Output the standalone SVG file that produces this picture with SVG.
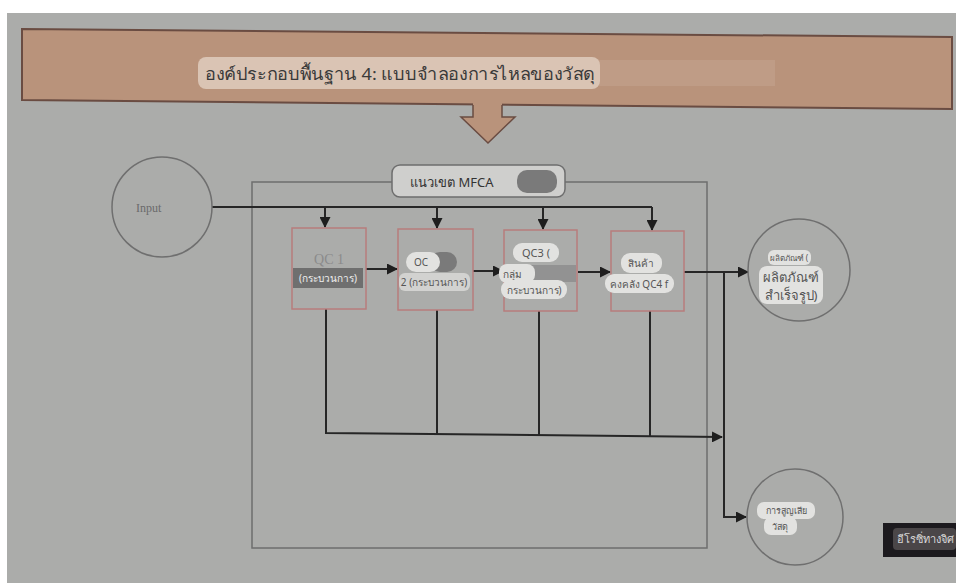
<svg xmlns="http://www.w3.org/2000/svg" width="956" height="583" viewBox="0 0 956 583">
<defs>
<marker id="ah" markerWidth="11" markerHeight="11" refX="10" refY="5.5" orient="auto" markerUnits="userSpaceOnUse">
<path d="M0,0 L11,5.5 L0,11 z" fill="#1e1e1e"/>
</marker>
<style>
.bg{fill:#abacaa}
.t{font-family:"Noto Sans","DejaVu Sans",sans-serif}
.ln{fill:none;stroke:#262626;stroke-width:2}
.box{fill:#abacaa;stroke:#b87c7c;stroke-width:1.5}
.cir{fill:#abacaa;stroke:#6f6f6f;stroke-width:1.5}
.pill{fill:#e2e2e0}
.lbl{font-size:10px;fill:#555}
</style>
</defs>
<rect width="956" height="583" fill="#ffffff"/>
<rect x="7" y="13" width="949" height="570" class="bg"/>
<g id="banner">
<polygon points="22,29 952,37 952,109 22,100" fill="#b9937b" stroke="#6a4c42" stroke-width="2"/>
<rect x="595" y="60" width="180" height="26" fill="#c09f8a" opacity="0.8"/>
<rect x="198" y="57" width="402" height="32" rx="8" fill="#dac4b4"/>
<text x="205" y="80" class="t" font-size="17" textLength="390" lengthAdjust="spacingAndGlyphs" fill="#3a3a3a">องค์ประกอบพื้นฐาน 4: แบบจำลองการไหลของวัสดุ</text>
<polygon points="473,100 502,100 502,117 515,117 488,143 461,117 473,117" fill="#b9937b"/>
<polyline points="473,105 473,117 461,117 488,143 515,117 502,117 502,105" fill="none" stroke="#6a4c42" stroke-width="1.5"/>
</g>
<g id="boundary">
<rect x="252" y="182" width="455" height="366" fill="none" stroke="#6e6e6e" stroke-width="1.5"/>
<rect x="392" y="165" width="173" height="32" rx="8" fill="#cfcfcd" stroke="#6e6e6e" stroke-width="1.5"/>
<rect x="517" y="170" width="40" height="23" rx="10" fill="#7a7a7a"/>
<text x="410" y="187" class="t" font-size="13" fill="#333">แนวเขต MFCA</text>
</g>
<g id="connectors">
<line x1="212" y1="207" x2="652" y2="207" class="ln"/>
<line x1="325" y1="207" x2="325" y2="227" class="ln" marker-end="url(#ah)"/>
<line x1="437" y1="207" x2="437" y2="228" class="ln" marker-end="url(#ah)"/>
<line x1="543" y1="207" x2="543" y2="229" class="ln" marker-end="url(#ah)"/>
<line x1="652" y1="207" x2="652" y2="230" class="ln" marker-end="url(#ah)"/>
<line x1="366" y1="269" x2="397" y2="269" class="ln" marker-end="url(#ah)"/>
<line x1="473" y1="271" x2="503" y2="271" class="ln" marker-end="url(#ah)"/>
<line x1="578" y1="272" x2="610" y2="272" class="ln" marker-end="url(#ah)"/>
<line x1="684" y1="272" x2="748" y2="272" class="ln" marker-end="url(#ah)"/>
<polyline points="326,309 326,433 722,437" class="ln" marker-end="url(#ah)"/>
<line x1="437" y1="310" x2="437" y2="434" class="ln"/>
<line x1="539" y1="311" x2="539" y2="435" class="ln"/>
<line x1="650" y1="311" x2="650" y2="436" class="ln"/>
<polyline points="724,272 724,517 746,517" class="ln" marker-end="url(#ah)"/>
</g>
<g id="input">
<circle cx="162" cy="207" r="50" class="cir"/>
<text x="136" y="212" font-family="Liberation Serif,serif" font-size="12" fill="#6a6a6a">Input</text>
</g>
<g id="qc1">
<rect x="292" y="228" width="74" height="81" class="box"/>
<text x="329" y="264" text-anchor="middle" font-family="Liberation Serif,serif" font-size="14" fill="#8a8a8a">QC 1</text>
<rect x="293" y="268" width="70" height="20" fill="#6f6f6f"/>
<text x="328" y="282" text-anchor="middle" class="t" font-size="10" fill="#f0f0f0">(กระบวนการ)</text>
</g>
<g id="qc2">
<rect x="398" y="229" width="75" height="81" class="box"/>
<rect x="430" y="252" width="27" height="20" rx="10" fill="#7a7a7a"/>
<rect x="406" y="252" width="34" height="20" rx="10" class="pill"/>
<text x="421" y="266" text-anchor="middle" class="t" font-size="10" fill="#555">OC</text>
<rect x="399" y="273" width="71" height="18" rx="6" class="pill" fill-opacity="0.7"/>
<text x="434" y="286" text-anchor="middle" class="t lbl" font-size="9">2 (กระบวนการ)</text>
</g>
<g id="qc3">
<rect x="504" y="230" width="73" height="81" class="box"/>
<rect x="513" y="243" width="46" height="19" rx="9" class="pill"/>
<text x="536" y="257" text-anchor="middle" class="t" font-size="11" fill="#555">QC3 (</text>
<rect x="530" y="265" width="46" height="17" fill="#929292"/>
<rect x="499" y="264" width="36" height="19" rx="8" class="pill"/>
<text x="503" y="278" class="t lbl">กลุ่ม</text>
<rect x="501" y="280" width="66" height="19" rx="9" class="pill"/>
<text x="534" y="294" text-anchor="middle" class="t lbl">กระบวนการ)</text>
</g>
<g id="qc4">
<rect x="611" y="231" width="73" height="80" class="box"/>
<rect x="621" y="253" width="41" height="20" rx="9" class="pill"/>
<text x="641" y="267" text-anchor="middle" class="t lbl">สินค้า</text>
<rect x="605" y="274" width="69" height="19" rx="9" class="pill"/>
<text x="639" y="288" text-anchor="middle" class="t lbl">คงคลัง QC4 f</text>
</g>
<g id="product">
<circle cx="799" cy="270" r="51" class="cir"/>
<rect x="768" y="250" width="43" height="15" rx="6" class="pill"/>
<text x="789" y="261" text-anchor="middle" class="t" font-size="8" fill="#555">ผลิตภัณฑ์ (</text>
<rect x="759" y="266" width="64" height="38" rx="8" class="pill"/>
<text x="791" y="282" text-anchor="middle" class="t" font-size="13" fill="#555">ผลิตภัณฑ์</text>
<text x="791" y="300" text-anchor="middle" class="t" font-size="13" fill="#555">สำเร็จรูป)</text>
</g>
<g id="loss">
<circle cx="795" cy="517" r="48" class="cir"/>
<rect x="757" y="502" width="58" height="17" rx="7" class="pill"/>
<rect x="764" y="517" width="33" height="18" rx="7" class="pill"/>
<text x="786" y="514" text-anchor="middle" class="t" font-size="9" fill="#555">การสูญเสีย</text>
<text x="780" y="530" text-anchor="middle" class="t" font-size="9" fill="#555">วัสดุ</text>
</g>
<g id="badge">
<rect x="883" y="523" width="73" height="34" fill="#1c1a1e"/>
<rect x="893" y="528" width="63" height="22" rx="4" fill="#4a4648"/>
<text x="897" y="543" class="t" font-size="11" fill="#d8d8d8">อีโรซิ่ทางจิศ</text>
</g>
</svg>
